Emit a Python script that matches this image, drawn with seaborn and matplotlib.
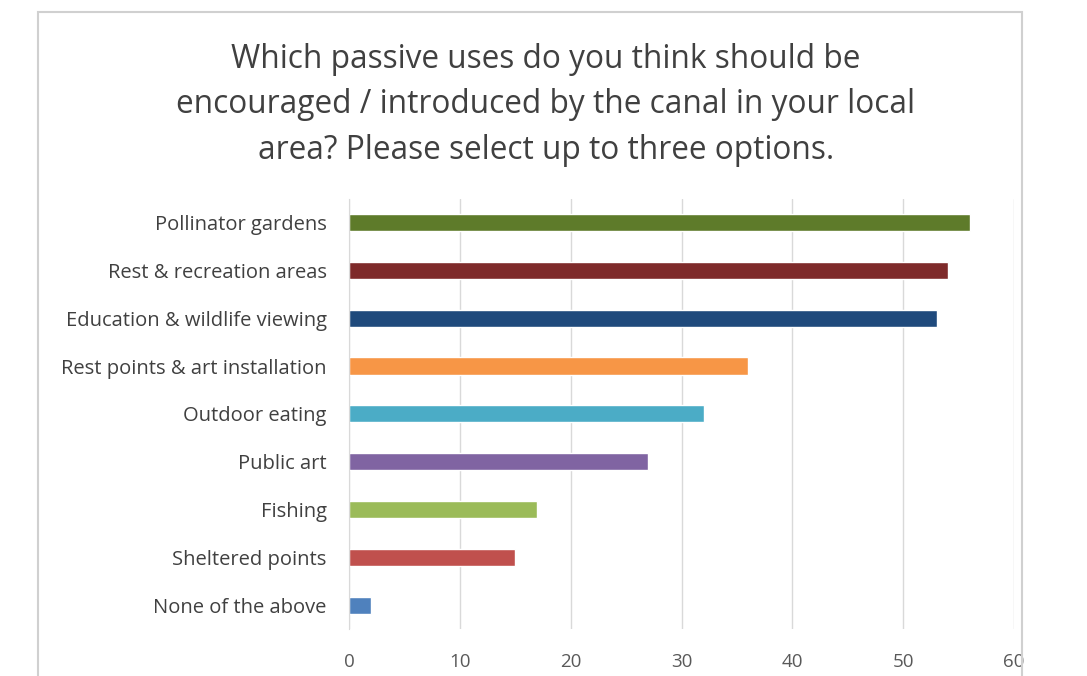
import pandas as pd
import matplotlib.pyplot as plt
import seaborn as sns
from matplotlib.patches import Rectangle

# Survey responses
categories = [
    'Pollinator gardens',
    'Rest & recreation areas',
    'Education & wildlife viewing',
    'Rest points & art installation',
    'Outdoor eating',
    'Public art',
    'Fishing',
    'Sheltered points',
    'None of the above',
]
counts = [56, 54, 53, 36, 32, 27, 17, 15, 2]
bar_colors = ['#5E7B2A', '#7E2A2A', '#1F4A7C', '#F79646', '#4BACC6',
              '#8064A2', '#9BBB59', '#C0504D', '#4F81BD']
x_ticks = [0, 10, 20, 30, 40, 50, 60]

df = pd.DataFrame({'option': categories, 'count': counts})

sns.set_style('white')
plt.rcParams['font.family'] = ['Open Sans', 'DejaVu Sans']

fig = plt.figure(figsize=(10.87, 6.76), dpi=100)
ax = fig.add_axes([0.321, 0.0695, 0.612, 0.6365])

sns.barplot(data=df, x='count', y='option', hue='option', palette=bar_colors,
            saturation=1, legend=False, orient='h', width=0.36, ax=ax)

ax.set_xlim(0, 60)
ax.set_ylim(8.5, -0.5)
ax.set_xticks(x_ticks)
ax.xaxis.grid(True, color='#D9D9D9', linewidth=1)
ax.set_axisbelow(True)
for s in ['top', 'right', 'bottom']:
    ax.spines[s].set_visible(False)
ax.spines['left'].set_color('#D9D9D9')
ax.set_xlabel('')
ax.set_ylabel('')
ax.tick_params(axis='y', length=0, pad=16, labelsize=14.5, labelcolor='#404040')
ax.tick_params(axis='x', length=0, pad=17, labelsize=13.5, labelcolor='#595959')

fig.text(0.502, 0.845,
         'Which passive uses do you think should be\n'
         'encouraged / introduced by the canal in your local\n'
         'area? Please select up to three options.',
         ha='center', va='center', fontsize=22.8, color='#404040',
         linespacing=1.5)

# chart frame
fig.patches.append(Rectangle((38 / 1087, -0.05), (1022 - 38) / 1087, 1 - 12 / 676 + 0.05,
                             transform=fig.transFigure, fill=False,
                             edgecolor='#D0D0D0', linewidth=1.5))

fig.savefig('out.png', dpi=100)
